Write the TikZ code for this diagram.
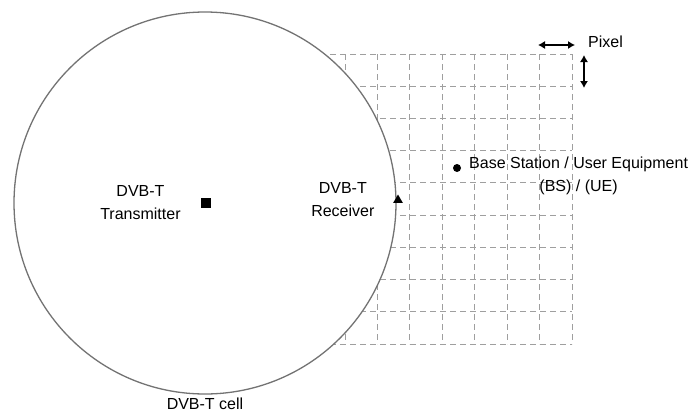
\documentclass[tikz,border=0pt]{standalone}
\usepackage{fontspec}
\setmainfont{Liberation Sans}
\usetikzlibrary{positioning,shapes.geometric,arrows.meta}

\begin{document}
\begin{tikzpicture}[x=1pt,y=-1pt,
  lbl/.style={font=\fontsize{16}{23}\selectfont,align=center,inner sep=0pt},
  pixgrid/.style={draw=gray!75,line width=0.8pt,dash pattern=on 6pt off 4pt},
  pixarrow/.style={{Latex[length=7pt,width=8pt]}-{Latex[length=7pt,width=8pt]},line width=1.1pt}]
  \useasboundingbox (0,0) rectangle (694,415);
  % pixel grid, hidden behind the cell
  \foreach \i in {0,...,9}
    \draw[pixgrid] (280,54+32.22*\i) -- (572,54+32.22*\i);
  \foreach \j in {0,...,7}
    \draw[pixgrid] (345+32.43*\j,54) -- (345+32.43*\j,344);
  \node[circle,draw=gray!90!black,fill=white,line width=1.3pt,minimum size=382pt,inner sep=0pt] (cell) at (205,203) {};
  \node[lbl,below=3pt of cell.south] (celllbl) {DVB-T cell};
  % transmitter and receiver
  \node[fill=black,minimum size=10pt,inner sep=0pt] (tx) at (206,203) {};
  \node[lbl,left=20pt of tx] (txlbl) {DVB-T\\Transmitter};
  \node[regular polygon,regular polygon sides=3,fill=black,minimum size=11pt,inner sep=0pt] (rx) at (398,200) {};
  \node[lbl,left=20pt of rx] (rxlbl) {DVB-T\\Receiver};
  % base station
  \node[circle,fill=black,minimum size=8pt,inner sep=0pt] (bs) at (457,168) {};
  \node[lbl,anchor=north west] (bslbl) at (469,157) {Base Station / User Equipment\\(BS) / (UE)};
  % pixel size
  \coordinate (hl) at (538,45);
  \coordinate (hr) at (575,45);
  \coordinate (vt) at (584,55);
  \coordinate (vb) at (584,88);
  \draw[pixarrow] (hl) -- (hr);
  \draw[pixarrow] (vt) -- (vb);
  \node[lbl,anchor=west] (pixlbl) at (588,42) {Pixel};
\end{tikzpicture}
\end{document}
